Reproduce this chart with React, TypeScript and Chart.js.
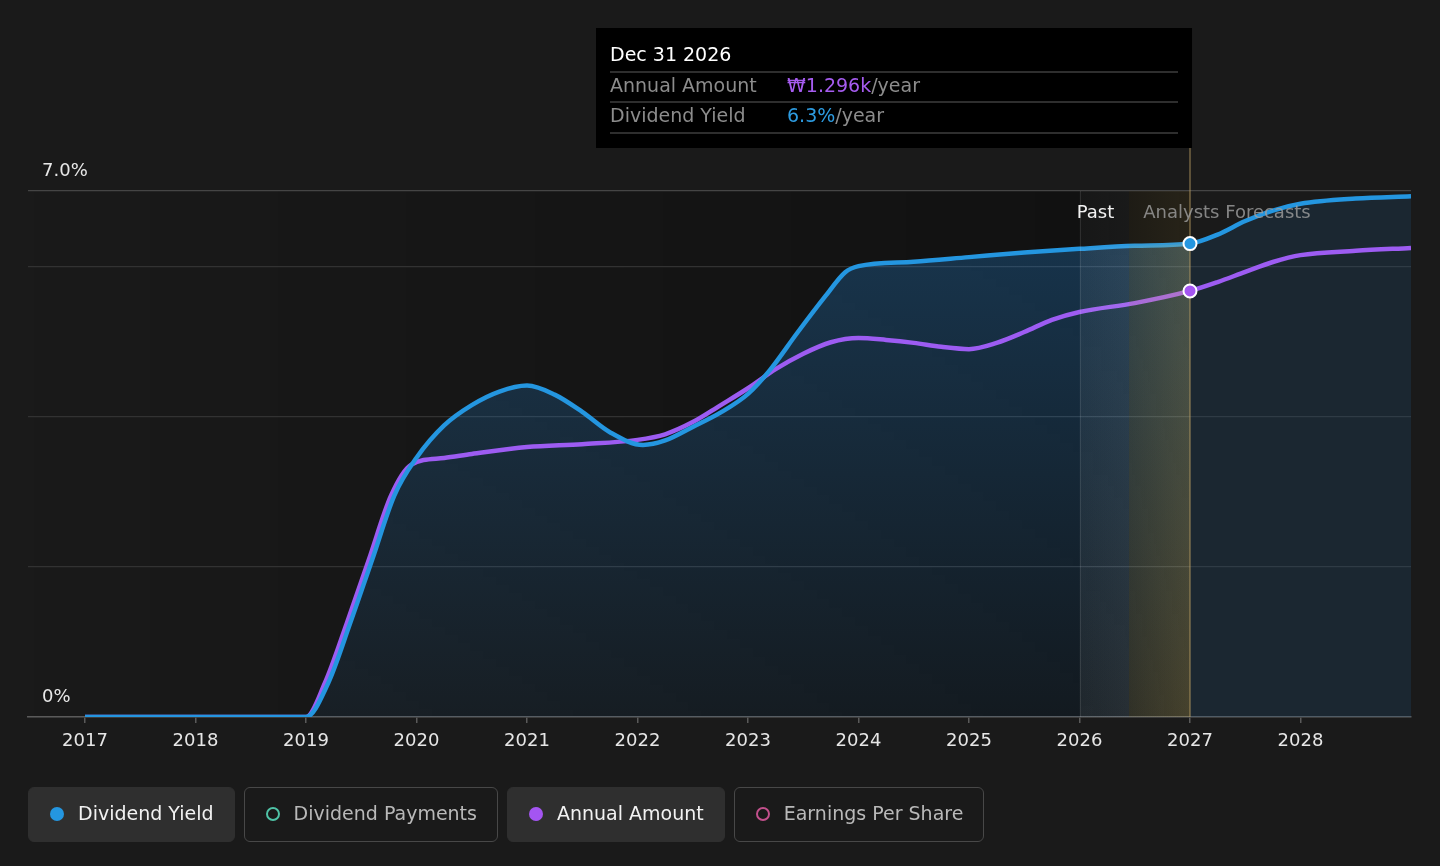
import React, { useEffect, useRef } from 'react';
import { Chart, registerables } from 'chart.js';

Chart.register(...registerables);

const FONT = '"DejaVu Sans", "Noto Sans", sans-serif';

// ---- data ----
const yieldYears = [2017, 2018, 2019, 2019.2, 2019.4, 2019.6, 2019.8, 2020, 2020.25, 2020.5, 2020.75, 2021, 2021.25, 2021.5, 2021.75, 2022.05, 2022.25, 2022.5, 2022.75, 2023, 2023.2, 2023.45, 2023.7, 2023.88, 2024, 2024.5, 2025, 2025.5, 2026, 2026.5, 2027, 2027.25, 2027.5, 2027.75, 2028, 2028.5, 2029];
const dividendYield = [0, 0, 0, 0.45, 1.25, 2.1, 2.95, 3.45, 3.88, 4.15, 4.33, 4.41, 4.29, 4.06, 3.79, 3.62, 3.68, 3.86, 4.05, 4.3, 4.62, 5.12, 5.6, 5.92, 6.0, 6.06, 6.12, 6.18, 6.23, 6.27, 6.3, 6.42, 6.6, 6.74, 6.83, 6.9, 6.93];

const amountYears = [2017, 2018, 2019, 2019.17, 2019.37, 2019.57, 2019.77, 2019.95, 2020.25, 2020.5, 2021, 2021.5, 2022, 2022.25, 2022.5, 2022.75, 2023, 2023.25, 2023.5, 2023.75, 2024, 2024.25, 2024.5, 2024.75, 2025, 2025.25, 2025.5, 2025.75, 2026, 2026.5, 2027, 2027.25, 2027.5, 2027.75, 2028, 2028.5, 2029];
const annualAmount = [0, 0, 0, 103, 286, 480, 674, 767, 788, 800, 821, 830, 843, 860, 897, 948, 1000, 1058, 1105, 1140, 1153, 1147, 1138, 1126, 1119, 1138, 1171, 1208, 1232, 1259, 1296, 1323, 1354, 1384, 1405, 1418, 1427];

const xTickYears = [2017, 2018, 2019, 2020, 2021, 2022, 2023, 2024, 2025, 2026, 2027, 2028];
const yGridValues = [0, 2, 4, 6, 7];
const yLabelValues = [7, 0];
const X_MIN = 2016.484;
const X_MAX = 2029;
const Y_MAX = 7;
const AMOUNT_MAX = 1600;
const PAST_START = 2026;
const TODAY = 2026.45;
const FORECAST_START = 2027;
const TOOLTIP_TITLE = 'Dec 31 2026';

const BLUE = '#2496e0';
const PURPLE = '#9d5cf2';

const legendItems = [
  { label: 'Dividend Yield', color: BLUE, active: true },
  { label: 'Dividend Payments', color: '#4fc2a6', active: false },
  { label: 'Annual Amount', color: '#a455f2', active: true },
  { label: 'Earnings Per Share', color: '#c2508c', active: false },
];

const decorPlugin = {
  id: 'decor',
  beforeDraw(chart: any) {
    const { ctx, chartArea: a, scales } = chart;
    const x = scales.x;
    const xPast = x.getPixelForValue(PAST_START);
    const xF = x.getPixelForValue(FORECAST_START);
    ctx.save();
    const g = ctx.createLinearGradient(a.left, 0, xPast, 0);
    g.addColorStop(0, 'rgba(0,0,0,0)');
    g.addColorStop(1, 'rgba(0,0,0,0.32)');
    ctx.fillStyle = g;
    ctx.fillRect(a.left, a.top, xPast - a.left, a.bottom - a.top);
    ctx.fillStyle = 'rgba(0,0,0,0.32)';
    ctx.fillRect(xPast, a.top, xF - xPast, a.bottom - a.top);
    ctx.restore();
  },
  afterDatasetsDraw(chart: any) {
    const { ctx, chartArea: a, scales } = chart;
    const x = scales.x;
    const x0 = x.getPixelForValue(PAST_START);
    const xT = x.getPixelForValue(TODAY);
    const x1 = x.getPixelForValue(FORECAST_START);
    const f = (xT - x0) / (x1 - x0);
    const grad = ctx.createLinearGradient(x0, 0, x1, 0);
    grad.addColorStop(0, 'rgba(210,220,220,0.07)');
    grad.addColorStop(f - 0.001, 'rgba(210,220,220,0.11)');
    grad.addColorStop(f, 'rgba(230,190,85,0.15)');
    grad.addColorStop(1, 'rgba(230,190,85,0.26)');
    ctx.save();
    ctx.beginPath();
    ctx.rect(x0, a.top, x1 - x0, a.bottom - a.top);
    ctx.clip();
    ctx.globalAlpha = 0.4;
    ctx.fillStyle = grad;
    ctx.fillRect(x0, a.top, x1 - x0, a.bottom - a.top);
    const line = chart.getDatasetMeta(0).dataset;
    const pts = chart.getDatasetMeta(0).data;
    if (line && typeof line.path === 'function' && pts.length) {
      ctx.beginPath();
      line.path(ctx);
      ctx.lineTo(pts[pts.length - 1].x, a.bottom);
      ctx.lineTo(pts[0].x, a.bottom);
      ctx.closePath();
      ctx.clip();
      ctx.globalAlpha = 0.6;
      ctx.fillRect(x0, a.top, x1 - x0, a.bottom - a.top);
    }
    ctx.restore();
    // boundary lines
    ctx.save();
    ctx.strokeStyle = 'rgba(255,255,255,0.10)';
    ctx.lineWidth = 1;
    ctx.beginPath();
    ctx.moveTo(Math.round(x0) + 0.5, a.top);
    ctx.lineTo(Math.round(x0) + 0.5, a.bottom);
    ctx.stroke();
    ctx.strokeStyle = 'rgba(190,160,100,0.55)';
    ctx.lineWidth = 1.5;
    ctx.beginPath();
    ctx.moveTo(x1, 148);
    ctx.lineTo(x1, a.bottom);
    ctx.stroke();
    ctx.restore();
  },
  afterDraw(chart: any) {
    const { ctx, chartArea: a, scales } = chart;
    const x = scales.x;
    const y = scales.y;
    const xT = x.getPixelForValue(TODAY);
    const xF = x.getPixelForValue(FORECAST_START);
    ctx.save();
    // y labels
    ctx.font = `18px ${FONT}`;
    ctx.fillStyle = '#e8e8e8';
    ctx.textAlign = 'left';
    ctx.textBaseline = 'middle';
    yLabelValues.forEach((v) => {
      ctx.fillText(v === 0 ? '0%' : v.toFixed(1) + '%', a.left + 14, y.getPixelForValue(v) - 20);
    });
    // past / forecast labels
    const ly = y.getPixelForValue(Y_MAX) + 22;
    ctx.textAlign = 'right';
    ctx.fillStyle = '#f2f2f2';
    ctx.fillText('Past', xT - 15, ly);
    ctx.textAlign = 'left';
    ctx.fillStyle = 'rgba(160,160,160,0.8)';
    ctx.fillText('Analysts Forecasts', xT + 14, ly);
    // hover points
    const markers = [
      { idx: yieldYears.indexOf(FORECAST_START), ds: 0, color: BLUE },
      { idx: amountYears.indexOf(FORECAST_START), ds: 1, color: '#a455f2' },
    ];
    markers.forEach((m) => {
      const el = chart.getDatasetMeta(m.ds).data[m.idx];
      if (!el) return;
      ctx.beginPath();
      ctx.arc(el.x, el.y, 6.5, 0, Math.PI * 2);
      ctx.fillStyle = m.color;
      ctx.fill();
      ctx.lineWidth = 2;
      ctx.strokeStyle = '#ffffff';
      ctx.stroke();
    });
    // tooltip
    const tw = 596;
    const tx = xF + 2 - tw;
    const ty = 28;
    ctx.fillStyle = '#000000';
    ctx.fillRect(tx, ty, tw, 120);
    ctx.font = `19px ${FONT}`;
    ctx.textAlign = 'left';
    ctx.textBaseline = 'middle';
    ctx.fillStyle = '#ffffff';
    ctx.fillText(TOOLTIP_TITLE, tx + 14, ty + 28);
    ctx.strokeStyle = '#3e3e3e';
    ctx.lineWidth = 1.5;
    [44, 74, 105].forEach((dy) => {
      ctx.beginPath();
      ctx.moveTo(tx + 14, ty + dy);
      ctx.lineTo(tx + tw - 14, ty + dy);
      ctx.stroke();
    });
    const amt = annualAmount[amountYears.indexOf(FORECAST_START)];
    const yl = dividendYield[yieldYears.indexOf(FORECAST_START)];
    const rows = [
      { label: 'Annual Amount', value: '₩' + (amt / 1000).toFixed(3) + 'k', color: '#a65cf0', dy: 59 },
      { label: 'Dividend Yield', value: yl.toFixed(1) + '%', color: '#2d9be0', dy: 89 },
    ];
    rows.forEach((r) => {
      ctx.fillStyle = '#8c8c8c';
      ctx.fillText(r.label, tx + 14, ty + r.dy);
      ctx.fillStyle = r.color;
      ctx.fillText(r.value, tx + 191, ty + r.dy);
      const w = ctx.measureText(r.value).width;
      ctx.fillStyle = '#8c8c8c';
      ctx.fillText('/year', tx + 191 + w, ty + r.dy);
    });
    ctx.restore();
  },
};

export default function App() {
  const canvasRef = useRef<HTMLCanvasElement | null>(null);

  useEffect(() => {
    if (!canvasRef.current) return;
    const chart = new Chart(canvasRef.current, {
      type: 'line',
      data: {
        datasets: [
          {
            label: 'Dividend Yield',
            data: yieldYears.map((v, i) => ({ x: v, y: dividendYield[i] })),
            borderColor: BLUE,
            borderWidth: 4.5,
            pointRadius: 0,
            cubicInterpolationMode: 'monotone',
            fill: 'origin',
            yAxisID: 'y',
            backgroundColor: (c: any) => {
              const area = c.chart.chartArea;
              if (!area) return 'rgba(35,125,200,0.2)';
              const g = c.chart.ctx.createLinearGradient(0, area.top, 0, area.bottom);
              g.addColorStop(0, 'rgba(35,125,200,0.34)');
              g.addColorStop(1, 'rgba(35,125,200,0.08)');
              return g;
            },
            segment: {
              backgroundColor: (c: any) => (c.p0.parsed.x >= FORECAST_START ? 'rgba(35,95,145,0.2)' : undefined),
            },
          } as any,
          {
            label: 'Annual Amount',
            data: amountYears.map((v, i) => ({ x: v, y: annualAmount[i] })),
            borderColor: PURPLE,
            borderWidth: 4.5,
            pointRadius: 0,
            cubicInterpolationMode: 'monotone',
            fill: false,
            yAxisID: 'y2',
          } as any,
        ],
      },
      options: {
        animation: false,
        responsive: true,
        maintainAspectRatio: false,
        layout: { padding: { left: 28, right: 29, top: 191, bottom: 109 } },
        plugins: {
          legend: { display: false },
          tooltip: { enabled: false },
          filler: { drawTime: 'beforeDatasetsDraw' },
        } as any,
        events: [],
        scales: {
          x: {
            type: 'linear',
            min: X_MIN,
            max: X_MAX,
            afterBuildTicks: (s: any) => {
              s.ticks = xTickYears.map((v) => ({ value: v }));
            },
            afterFit: (s: any) => {
              s.height = 40;
            },
            ticks: {
              color: '#e6e6e6',
              font: { family: FONT, size: 18 },
              padding: 8,
              maxRotation: 0,
              autoSkip: false,
              callback: (v: any) => String(v),
            },
            grid: { drawOnChartArea: false, drawTicks: true, tickLength: 6, color: '#5a5a5a', lineWidth: 1.5 },
            border: { color: '#5a5a5a', width: 1.5 },
          },
          y: {
            min: 0,
            max: Y_MAX,
            afterBuildTicks: (s: any) => {
              s.ticks = yGridValues.map((v) => ({ value: v }));
            },
            afterFit: (s: any) => {
              s.width = 0;
            },
            ticks: { display: false },
            grid: {
              drawTicks: false,
              color: (c: any) => (c.tick && c.tick.value === Y_MAX ? '#454545' : '#323232'),
              lineWidth: 1.2,
            },
            border: { display: false },
          },
          y2: { display: false, min: 0, max: AMOUNT_MAX },
        },
      } as any,
      plugins: [decorPlugin],
    });
    return () => chart.destroy();
  }, []);

  return (
    <div style={{ position: 'fixed', left: 0, top: 0, width: 1440, height: 866, background: '#1a1a1a', fontFamily: FONT }}>
      <div style={{ position: 'absolute', left: 0, top: 0, width: 1440, height: 866 }}>
        <canvas ref={canvasRef} />
      </div>
      <div style={{ position: 'absolute', left: 28, top: 787, display: 'flex', gap: 9 }}>
        {legendItems.map((it) => (
          <div
            key={it.label}
            style={{
              height: 55,
              boxSizing: 'border-box',
              display: 'flex',
              alignItems: 'center',
              padding: '0 20px 4px 21px',
              borderRadius: 6,
              background: it.active ? '#2f2f2f' : 'transparent',
              border: it.active ? '1.5px solid #2f2f2f' : '1.5px solid #484848',
              color: it.active ? '#f2f2f2' : '#b9b9b9',
              fontSize: 19,
              whiteSpace: 'nowrap',
            }}
          >
            <span
              style={{
                width: 14,
                height: 14,
                borderRadius: '50%',
                boxSizing: 'border-box',
                background: it.active ? it.color : 'transparent',
                border: it.active ? 'none' : `2.5px solid ${it.color}`,
                marginRight: 14,
                marginTop: 3,
                flexShrink: 0,
              }}
            />
            {it.label}
          </div>
        ))}
      </div>
    </div>
  );
}
